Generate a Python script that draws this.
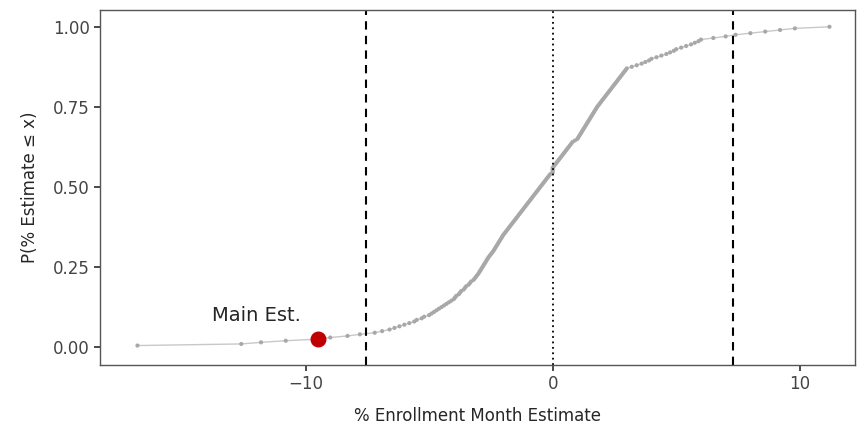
import numpy as np, pandas as pd, seaborn as sns, matplotlib
matplotlib.use("Agg")
import matplotlib.pyplot as plt

estimates = [
 -16.8,-12.6,-11.8,-10.8,-9.5,-9.0,-8.3,-7.8,
 -7.2,-6.9,-6.6,-6.4,-6.2,-6.0,-5.8,-5.6,-5.5,-5.3,-5.2,-5.0,
 -4.9,-4.8,-4.7,-4.6,-4.5,-4.4,-4.3,-4.2,-4.1,-4.0,
 -3.95,-3.9,-3.8,-3.75,-3.7,-3.6,-3.55,-3.5,-3.4,-3.35,-3.3,-3.2,-3.15,-3.1,-3.05,-3.0,
 -2.96,-2.92,-2.88,-2.84,-2.8,-2.76,-2.72,-2.68,-2.64,-2.6,-2.55,-2.5,-2.45,-2.4,-2.36,-2.32,-2.28,-2.24,-2.2,-2.16,-2.12,-2.08,-2.04,-2.0,
 -1.95,-1.9,-1.85,-1.8,-1.75,-1.7,-1.65,-1.6,-1.55,-1.5,-1.45,-1.4,-1.35,-1.3,-1.25,-1.2,-1.15,-1.1,-1.05,-1.0,
 -0.95,-0.9,-0.85,-0.8,-0.75,-0.7,-0.65,-0.6,-0.55,-0.5,-0.45,-0.4,-0.35,-0.3,-0.25,-0.2,-0.15,-0.1,0.0,0.0,
 0.0,0.0,0.05,0.1,0.15,0.2,0.25,0.3,0.35,0.4,0.45,0.5,0.55,0.6,0.65,0.7,0.75,0.8,0.9,1.0,
 1.04,1.08,1.12,1.16,1.2,1.24,1.28,1.32,1.36,1.4,1.44,1.48,1.52,1.56,1.6,1.64,1.68,1.72,1.76,1.8,1.85,1.9,1.95,2.0,
 2.05,2.1,2.15,2.2,2.25,2.3,2.35,2.4,2.45,2.5,2.55,2.6,2.65,2.7,2.75,2.8,2.85,2.9,2.95,3.0,
 3.2,3.4,3.6,3.75,3.9,4.0,
 4.2,4.4,4.6,4.75,4.9,5.0,
 5.2,5.4,5.6,5.75,5.9,6.0,
 6.5,7.0,7.4,
 8.0,8.6,9.2,9.8,
 11.2]
main_est = -9.5
ci_low, ci_high = -7.55, 7.3

x = np.sort(np.array(estimates))
df = pd.DataFrame({"x": x, "p": np.arange(1, len(x)+1)/len(x)})

sns.set_theme(style="white")
fig, ax = plt.subplots(figsize=(8.58, 4.26), dpi=100)
sns.lineplot(data=df, x="x", y="p", ax=ax, color="#c8c8c8", lw=1, zorder=1)
sns.scatterplot(data=df, x="x", y="p", ax=ax, color="#a8a8a8", s=9, edgecolor="none", zorder=2)
p_main = df.loc[df.x == main_est, "p"].iloc[0]
ax.scatter([main_est], [p_main], s=110, color="#c00000", zorder=3)
ax.text(-12.0, p_main + 0.075, "Main Est.", fontsize=14, ha="center", va="center")
for v in (ci_low, ci_high):
    ax.axvline(v, color="black", ls=(0, (4, 3)), lw=1.5)
ax.axvline(0, color="black", ls=(0, (1, 2)), lw=1.3)
ax.set_xlim(-18.3, 12.25)
ax.set_ylim(-0.056, 1.053)
ax.set_xticks([-10, 0, 10])
ax.set_yticks([0, 0.25, 0.5, 0.75, 1.0])
ax.set_yticklabels(["0.00", "0.25", "0.50", "0.75", "1.00"])
ax.tick_params(labelsize=12, colors="#444444", length=4, left=True, bottom=True)
ax.tick_params(axis="both", color="#333333")
ax.set_xlabel("% Enrollment Month Estimate", fontsize=12, labelpad=10)
ax.set_ylabel("P(% Estimate ≤ x)", fontsize=12, labelpad=10)
for s in ax.spines.values():
    s.set_color("#555555"); s.set_linewidth(1)
fig.subplots_adjust(left=0.117, right=0.997, top=0.977, bottom=0.143)
fig.savefig("out.png", dpi=100)
